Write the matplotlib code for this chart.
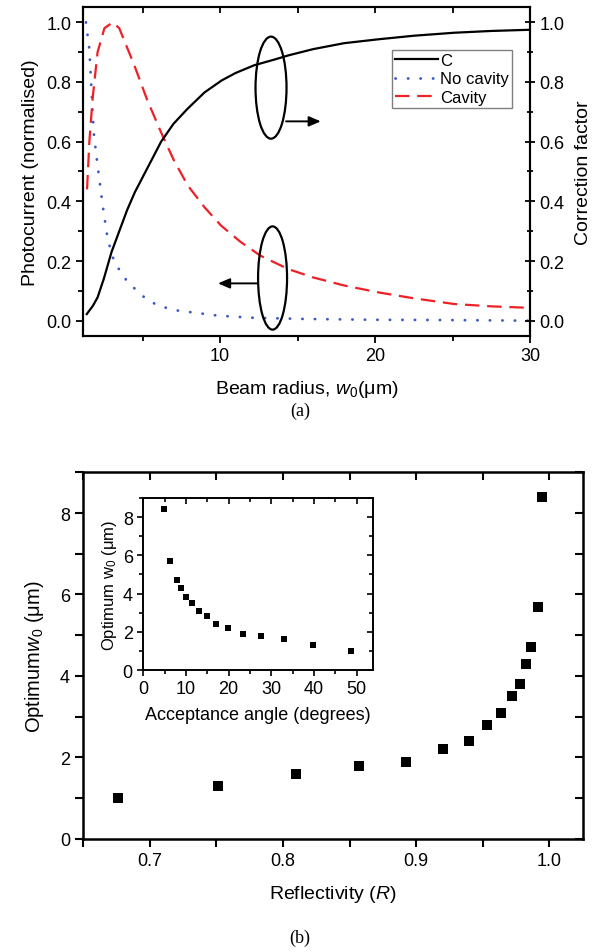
import numpy as np
import matplotlib
matplotlib.use("Agg")
import matplotlib.pyplot as plt
from matplotlib.patches import Ellipse
from matplotlib.ticker import MultipleLocator, FormatStrFormatter, NullFormatter

plt.rcParams['font.family'] = ['Liberation Sans', 'DejaVu Sans']
plt.rcParams['mathtext.fontset'] = 'custom'
plt.rcParams['mathtext.rm'] = 'Liberation Sans'
plt.rcParams['mathtext.it'] = 'Liberation Sans:italic'

# ---- panel (a) data ----
c_x = [1.4, 1.8, 2.1, 2.5, 3.0, 3.5, 4.0, 4.5, 5.0, 5.5, 6.2, 7.0, 7.9, 9.0, 10.1, 11.0,
       12.2, 13.5, 14.4, 16.0, 18.0, 20.2, 22.5, 25.1, 27.5, 30.0]
c_y = [0.022, 0.05, 0.078, 0.14, 0.23, 0.30, 0.37, 0.43, 0.48, 0.53, 0.60, 0.66, 0.71,
       0.765, 0.805, 0.83, 0.856, 0.875, 0.889, 0.91, 0.93, 0.943, 0.955, 0.965, 0.971, 0.975]
nocav_x = [1.35, 1.57, 1.68, 1.85, 2.1, 2.43, 2.75, 3.18, 4.04, 5.12, 6.0, 7.27, 9.85,
           12.0, 15.2, 20.0, 25.0, 30.0]
nocav_y = [1.0, 0.91, 0.80, 0.63, 0.52, 0.386, 0.274, 0.196, 0.129, 0.078, 0.05, 0.034,
           0.017, 0.01, 0.006, 0.003, 0.002, 0.0]
cav_x = [1.42, 1.57, 1.78, 2.1, 2.54, 3.08, 3.5, 4.47, 5.3, 6.19, 7.0, 7.92, 9.0, 10.06,
         11.3, 12.6, 14.4, 16.0, 18.0, 20.2, 22.5, 25.1, 27.5, 30.0]
cav_y = [0.44, 0.60, 0.744, 0.90, 0.98, 1.0, 0.98, 0.856, 0.74, 0.632, 0.54, 0.453, 0.38,
         0.319, 0.265, 0.218, 0.173, 0.145, 0.118, 0.095, 0.075, 0.056, 0.048, 0.043]

# ---- panel (b) data ----
refl = [0.676, 0.751, 0.810, 0.857, 0.892, 0.920, 0.940, 0.953, 0.964, 0.972, 0.978,
        0.9825, 0.9865, 0.9915, 0.9945]
w0_opt = [1.0, 1.3, 1.6, 1.8, 1.9, 2.2, 2.4, 2.8, 3.1, 3.5, 3.8, 4.3, 4.7, 5.7, 8.4]
angle = [4.9, 6.2, 7.9, 8.8, 10.0, 11.4, 13.0, 14.9, 17.0, 19.9, 23.5, 27.7, 33.1, 39.8, 48.8]
w0_inset = [8.4, 5.7, 4.7, 4.3, 3.8, 3.5, 3.1, 2.8, 2.4, 2.2, 1.9, 1.8, 1.6, 1.3, 1.0]

fig = plt.figure(figsize=(5.95, 9.53), dpi=100)

TICK = 13
LAB = 14


def inward_mirror(a, xmaj, xmin, ymaj=None, ymin=None, length=(5, 3.5), width=1.3,
                  ydir='in'):
    """Add inward-pointing ticks on the top (and optionally right) without labels."""
    t = a.secondary_xaxis('top')
    t.xaxis.set_major_locator(MultipleLocator(xmaj))
    t.xaxis.set_minor_locator(MultipleLocator(xmin))
    t.xaxis.set_major_formatter(NullFormatter())
    t.tick_params(which='both', direction='in', width=width)
    t.tick_params(which='major', length=length[0])
    t.tick_params(which='minor', length=length[1])
    t.spines['top'].set_visible(False)
    if ymaj is not None:
        r = a.secondary_yaxis('right')
        r.yaxis.set_major_locator(MultipleLocator(ymaj))
        r.yaxis.set_minor_locator(MultipleLocator(ymin))
        r.yaxis.set_major_formatter(NullFormatter())
        r.tick_params(which='both', direction=ydir, width=width)
        r.tick_params(which='major', length=length[0])
        r.tick_params(which='minor', length=length[1])
        r.spines['right'].set_visible(False)


# ================= panel (a) =================
ax = fig.add_axes([0.1395, 0.6468, 0.7513, 0.3444])
ax2 = ax.twinx()
l_nc, = ax.plot(nocav_x, nocav_y, color='#3b5bc4', lw=2.0, linestyle=(0, (0.1, 4.4)),
                dash_capstyle='round', label='No cavity')
l_cv, = ax.plot(cav_x, cav_y, color='#ee2026', lw=1.6, linestyle=(0, (6.5, 3.5)),
                label='Cavity')
l_c, = ax2.plot(c_x, c_y, color='black', lw=1.6, label='C')

for a in (ax, ax2):
    a.set_xlim(1.16, 30)
    a.set_ylim(-0.05, 1.05)
    a.yaxis.set_major_locator(MultipleLocator(0.2))
    a.yaxis.set_minor_locator(MultipleLocator(0.1))
    a.yaxis.set_major_formatter(FormatStrFormatter('%.1f'))
    for s in a.spines.values():
        s.set_linewidth(1.5)
ax.xaxis.set_major_locator(MultipleLocator(10))
ax.xaxis.set_minor_locator(MultipleLocator(5))
ax.tick_params(axis='both', which='both', labelsize=TICK, width=1.3, direction='out')
ax.tick_params(which='major', length=5)
ax.tick_params(which='minor', length=3.5)
ax2.tick_params(axis='y', which='both', direction='inout', labelsize=TICK, width=1.3)
ax2.tick_params(which='major', length=7)
ax2.tick_params(which='minor', length=5)
inward_mirror(ax, 10, 5, length=(4, 4))

ax.set_ylabel('Photocurrent (normalised)', fontsize=LAB, labelpad=5)
ax2.set_ylabel('Correction factor', fontsize=LAB, labelpad=7)
ax.set_xlabel(r'Beam radius, $\mathit{w_0}$(μm)', fontsize=LAB, labelpad=10)

# annotations: ellipses and arrows
ax.add_patch(Ellipse((13.29, 0.781), 2.0, 0.342, fill=False, ec='black', lw=1.6, zorder=5))
ax.add_patch(Ellipse((13.39, 0.143), 1.87, 0.346, fill=False, ec='black', lw=1.6, zorder=5))
ax.annotate('', xy=(16.5, 0.668), xytext=(14.26, 0.668),
            arrowprops=dict(arrowstyle='-|>,head_length=0.7,head_width=0.3',
                            color='black', lw=1.4, shrinkA=0, shrinkB=0))
ax.annotate('', xy=(9.87, 0.125), xytext=(12.45, 0.125),
            arrowprops=dict(arrowstyle='-|>,head_length=0.7,head_width=0.3',
                            color='black', lw=1.4, shrinkA=0, shrinkB=0))

leg = ax2.legend([l_c, l_nc, l_cv], ['C', 'No cavity', 'Cavity'], loc='upper left',
                 bbox_to_anchor=(0.6906, 0.871), borderaxespad=0, fontsize=12,
                 handlelength=2.6, handletextpad=0.1, labelspacing=0.2,
                 borderpad=0.2, fancybox=False, framealpha=1)
leg.get_frame().set_edgecolor('#7f7f7f')
leg.get_frame().set_linewidth(1.0)

fig.text(0.504, 1 - 411 / 953, '(a)', fontsize=13, family='Liberation Serif',
         ha='center', va='center')

# ================= panel (b) =================
bx = fig.add_axes([0.14, 0.1186, 0.8393, 0.3848])
bx.scatter(refl, w0_opt, marker='s', s=50, color='black', zorder=3, linewidths=0)
bx.set_xlim(0.65, 1.025)
bx.set_ylim(0, 9)
bx.xaxis.set_major_locator(MultipleLocator(0.1))
bx.xaxis.set_minor_locator(MultipleLocator(0.05))
bx.yaxis.set_major_locator(MultipleLocator(2))
bx.yaxis.set_minor_locator(MultipleLocator(1))
bx.xaxis.set_major_formatter(FormatStrFormatter('%.1f'))
for s in bx.spines.values():
    s.set_linewidth(1.8)
bx.tick_params(axis='both', which='both', labelsize=TICK, width=1.5, direction='out')
bx.tick_params(which='major', length=6)
bx.tick_params(which='minor', length=6)
inward_mirror(bx, 0.1, 0.05, 2, 1, length=(6, 6), width=1.5)
bx.set_xlabel(r'Reflectivity ($\mathit{R}$)', fontsize=LAB, labelpad=10)
bx.set_ylabel(r'Optimum$\mathit{w_0}$ (μm)', fontsize=LAB + 0.5, labelpad=10)

# inset
ix = fig.add_axes([0.2408, 0.2959, 0.3856, 0.1805])
ix.scatter(angle, w0_inset, marker='s', s=22, color='black', zorder=3, linewidths=0)
ix.set_xlim(0, 53.8)
ix.set_ylim(0, 9)
ix.xaxis.set_major_locator(MultipleLocator(10))
ix.xaxis.set_minor_locator(MultipleLocator(5))
ix.yaxis.set_major_locator(MultipleLocator(2))
ix.yaxis.set_minor_locator(MultipleLocator(1))
for s in ix.spines.values():
    s.set_linewidth(1.4)
ix.tick_params(axis='both', which='both', labelsize=TICK, width=1.2, direction='out')
ix.tick_params(which='major', length=4)
ix.tick_params(which='minor', length=3)
inward_mirror(ix, 10, 5, 2, 1, length=(4, 3), width=1.2)
ix.set_xlabel('Acceptance angle (degrees)', fontsize=13, labelpad=6)
ix.set_ylabel(r'Optimum w$_\mathregular{0}$ (μm)', fontsize=12, labelpad=3)

fig.text(0.504, 1 - 938 / 953, '(b)', fontsize=13, family='Liberation Serif',
         ha='center', va='center')

fig.savefig('out.png', dpi=100)
